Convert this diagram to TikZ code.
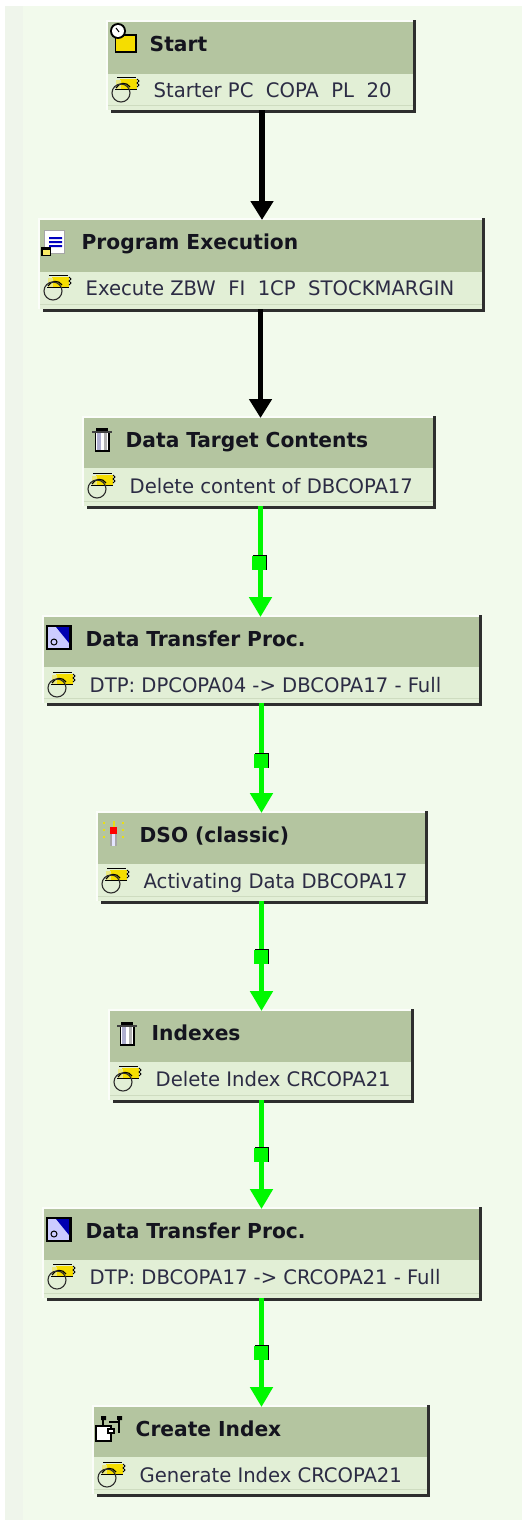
\documentclass[tikz,border=0pt]{standalone}
\usepackage{fontspec}
\setmainfont{DejaVu Sans Condensed}[BoldFont={DejaVu Sans Condensed Bold},FakeStretch=1.09]
\usetikzlibrary{arrows.meta}
\definecolor{pagebg}{HTML}{F2FAEC}
\definecolor{stripbg}{HTML}{EFF5EB}
\definecolor{hdr}{HTML}{B4C5A0}
\definecolor{bodyc}{HTML}{E2EFD6}
\definecolor{bodyl}{HTML}{CEDCC0}
\definecolor{shad}{HTML}{2E2E2E}
\definecolor{flowg}{HTML}{00F800}
\definecolor{tagy}{HTML}{F5DD00}
\definecolor{titlec}{HTML}{14141E}
\definecolor{subc}{HTML}{2C2C44}
\tikzset{
  x=1pt,y=-1pt,
  boxn/.style={inner sep=0pt,outer sep=0pt,anchor=north west},
  titlet/.style={inner sep=0pt,anchor=base west,text=titlec,font=\fontsize{20.6}{24}\selectfont\bfseries},
  subt/.style={inner sep=0pt,anchor=base west,text=subc,font=\fontsize{20}{24}\selectfont},
  blackflow/.style={line width=5.5pt,draw=black,-{Triangle[width=22pt,length=19pt]}},
  greenflow/.style={line width=5pt,draw=flowg,-{Triangle[width=22pt,length=20pt]}},
  sqm/.style={inner sep=0pt,minimum width=14pt,minimum height=14pt,fill=flowg,draw=none}
}
% sap box: name, left, top, right, header bottom, bottom, title, sub
\newcommand{\sapbox}[8]{%
  \fill[shad] (#2+3,#3-2) rectangle (#4+3,#6+3);
  \fill[white!70!pagebg] (#2-2,#3-2) rectangle (#4,#6);
  \node[boxn,fill=hdr,minimum width={(#4)*1pt-(#2)*1pt},minimum height={(#5)*1pt-(#3)*1pt}] (#1h) at (#2,#3) {};
  \fill[bodyc] (#2,#5) rectangle (#4,#6);
  \fill[bodyl] (#2,#6-5) rectangle (#4,#6-4);
  \node[boxn,minimum width={(#4)*1pt-(#2)*1pt},minimum height={(#6)*1pt-(#3)*1pt}] (#1) at (#2,#3) {};
  \node[titlet] (#1t) at (#2+41.5,#3+29.5) {#7};
  \node[subt] (#1s) at (#2+45.5,#3+75) {#8};
  \begin{scope}[shift={(#2,#3)}]\subicon\end{scope}
}
\newcommand{\subicon}{%
  \fill[tagy] (12,57) rectangle (29,67);
  \fill[bodyc!60!tagy] (8,58) rectangle (13,67);
  \draw[black,line width=1pt] (9,55.5) -- (28,55.5);
  \draw[black,line width=1.2pt] (8,66) .. controls (11,60) and (19,60) .. (22,65);
  \draw[black,line width=1pt] (7,67.5) -- (29,67.5);
  \draw[black,line width=1pt] (29,57) -- (31,59) -- (29,61) -- (31,63) -- (29,65);
  \draw[shad,line width=1.1pt] (13,71) circle (9);
}
\newcommand{\trashicon}[2]{%
  \begin{scope}[shift={(#1,#2)}]
    \fill[black] (4,-1) rectangle (16,2);
    \fill[black!75] (0,2) rectangle (20,4);
    \fill[black] (3,4) rectangle (18,23);
    \fill[white] (4,4) rectangle (16,21);
    \fill[blue!25!gray!50] (5,4) rectangle (9,21);
    \fill[gray!60] (12,4) rectangle (15,21);
  \end{scope}}
\begin{document}
\begin{tikzpicture}
\useasboundingbox (0,0) rectangle (522,1520);
\fill[white] (0,0) rectangle (522,1520);
\fill[pagebg] (5,6) rectangle (522,1520);
\fill[stripbg] (5,6) rectangle (23,1520);
\coordinate (axa) at (262,0);
\coordinate (axb) at (260.5,0);
\coordinate (axc) at (261.5,0);

\sapbox{start}{108}{22}{413}{74}{110}{Start}{Starter PC\ \ COPA\ \ PL\ \ 20}
\sapbox{prog}{40}{220}{482}{272}{309}{Program Execution}{Execute ZBW\ \ FI\ \ 1CP\ \ STOCKMARGIN}
\sapbox{dtc}{84}{418}{433}{468}{506}{Data Target Contents}{Delete content of DBCOPA17}
\sapbox{dtpa}{44}{617}{479}{667}{703}{Data Transfer Proc.}{DTP: DPCOPA04 -> DBCOPA17 - Full}
\sapbox{dso}{98}{813}{425}{864}{901}{DSO (classic)}{Activating Data DBCOPA17}
\sapbox{idx}{110}{1011}{411}{1062}{1100}{Indexes}{Delete Index CRCOPA21}
\sapbox{dtpb}{44}{1209}{479}{1260}{1298}{Data Transfer Proc.}{DTP: DBCOPA17 -> CRCOPA21 - Full}
\sapbox{cidx}{94}{1407}{427}{1457}{1494}{Create Index}{Generate Index CRCOPA21}

% header icons
\begin{scope}[shift={(108,22)}]
  \fill[black] (7,12) rectangle (29,31);
  \fill[tagy] (8,14) rectangle (27,29);
  \fill[black] (10,9) circle (8);
  \fill[white] (10,9) circle (6);
  \draw[black,line width=1pt] (8,6) -- (11,10);
\end{scope}
\begin{scope}[shift={(40,220)}]
  \fill[gray!70] (4,10) rectangle (25,34);
  \fill[white] (5,11) rectangle (24,33);
  \fill[blue!75!black] (9,17) rectangle (22,19) (9,21) rectangle (22,23) (9,25) rectangle (22,27);
  \fill[black] (1,27) rectangle (11,36);
  \fill[tagy!60!white] (3,30) rectangle (10,35);
\end{scope}
\trashicon{92}{429}
\trashicon{117}{1023}
\begin{scope}[shift={(46,625)}]
  \fill[black] (0,0) rectangle (26,25);
  \fill[blue!20!white] (2,2) rectangle (23,23);
  \fill[blue!70!black] (10,2) -- (23,2) -- (23,18) -- cycle;
  \draw[black,line width=1pt] (8,17) circle (3);
\end{scope}
\begin{scope}[shift={(46,1217)}]
  \fill[black] (0,0) rectangle (26,25);
  \fill[blue!20!white] (2,2) rectangle (23,23);
  \fill[blue!70!black] (10,2) -- (23,2) -- (23,18) -- cycle;
  \draw[black,line width=1pt] (8,17) circle (3);
\end{scope}
\begin{scope}[shift={(102,820)}]
  \fill[gray!70] (8,14) rectangle (15,26);
  \fill[blue!10!white] (10,14) rectangle (13,26);
  \fill[red] (8,7) rectangle (15,14);
  \fill[yellow!90!black] (10.5,1) rectangle (12.5,7);
  \foreach \a/\b in {1/2,1/9,1/16,20/2,20/9,20/16}{\fill[yellow!90!black] (\a,\b) rectangle ++(2,2);}
\end{scope}
\begin{scope}[shift={(95,1414)}]
  \draw[black,line width=1.6pt,fill=white] (1,12) rectangle (16,27);
  \fill[black] (6,2) rectangle (11,6) (22,2) rectangle (27,6);
  \draw[black,line width=2pt] (8,5) -- (8,12) (24,5) -- (24,19) (14,8) -- (24,8);
  \fill[black] (12,14) rectangle (20,20);
  \fill[white] (14,15.5) rectangle (18,18);
\end{scope}

% connectors
\draw[blackflow] (start.south -| axa) -- (axa |- prog.north);
\draw[blackflow] (prog.south -| axb) -- (axb |- dtc.north);
\draw[greenflow] (dtc.south -| axb) -- (axb |- dtpa.north);
\draw[greenflow] (dtpa.south -| axc) -- (axc |- dso.north);
\draw[greenflow] (dso.south -| axc) -- (axc |- idx.north);
\draw[greenflow] (idx.south -| axc) -- (axc |- dtpb.north);
\draw[greenflow] (dtpb.south -| axc) -- (axc |- cidx.north);

% connector markers
\foreach \n/\xx/\yy in {ma/259/563,mb/260.5/761,mc/260.5/957,md/260.5/1155,me/260.5/1353}{
  \fill[black] (\xx-6,\yy-8) rectangle (\xx+8,\yy+7);
  \node[sqm] (\n) at (\xx,\yy) {};
}
\end{tikzpicture}
\end{document}
